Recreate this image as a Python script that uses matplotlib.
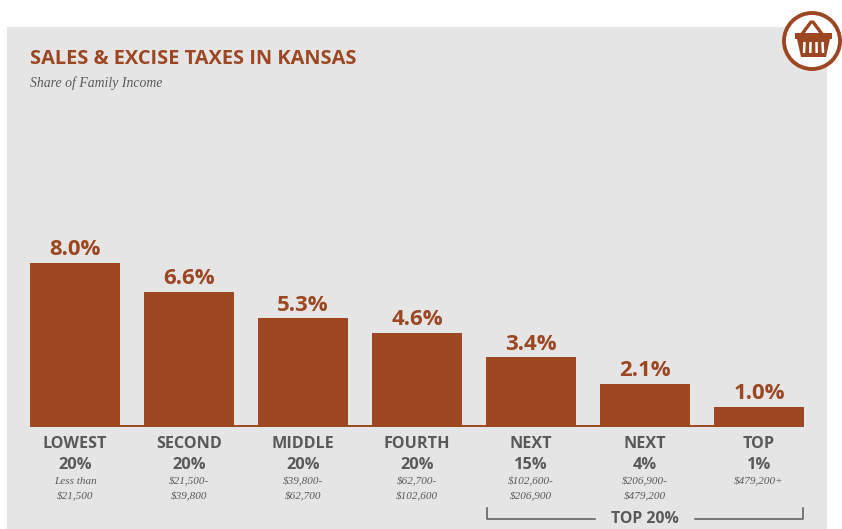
import matplotlib
matplotlib.use("Agg")
import matplotlib.pyplot as plt
from matplotlib.patches import Circle, Polygon, Rectangle

# Values
groups = ["LOWEST", "SECOND", "MIDDLE", "FOURTH", "NEXT", "NEXT", "TOP"]
shares = ["20%", "20%", "20%", "20%", "15%", "4%", "1%"]
incomes = ["Less than\n$21,500", "$21,500-\n$39,800", "$39,800-\n$62,700", "$62,700-\n$102,600",
           "$102,600-\n$206,900", "$206,900-\n$479,200", "$479,200+"]
values = [8.0, 6.6, 5.3, 4.6, 3.4, 2.1, 1.0]

BROWN = "#9C4722"
PANEL = "#E5E5E5"
GREY = "#58595B"
SANS = "Open Sans"
SERIF = "Liberation Serif"
W, H = 842, 529

fig = plt.figure(figsize=(W / 100, H / 100), dpi=100, facecolor="white")

# Overlay in pixel coords for the panel, text and icon
bg = fig.add_axes([0, 0, 1, 1], zorder=0)
bg.set_xlim(0, W)
bg.set_ylim(H, 0)
bg.axis("off")
bg.add_patch(Rectangle((7, 27), 820, 502, color=PANEL, lw=0))

# Bars
bar_w = 90 / 114
ax = fig.add_axes([30 / W, (H - 427) / H, 774 / W, 164 / H], zorder=1)
ax.patch.set_alpha(0)
x = range(len(values))
ax.bar(x, values, width=bar_w, color=BROWN)
ax.set_xlim(-bar_w / 2, 6 + bar_w / 2)
ax.set_ylim(0, 8.0)
ax.axis("off")
ax.axhline(0.05, color=BROWN, lw=1.4, clip_on=True)
for i, v in enumerate(values):
    ax.annotate(f"{v:.1f}%", (i, v), xytext=(0, 2), textcoords="offset points", ha="center", va="bottom",
                color=BROWN, fontsize=16, family=SANS, weight="bold", annotation_clip=False)

top = fig.add_axes([0, 0, 1, 1], zorder=2)
top.set_xlim(0, W)
top.set_ylim(H, 0)
top.axis("off")

top.text(30, 59, "SALES & EXCISE TAXES IN KANSAS", color=BROWN, fontsize=14.4, family=SANS, weight="bold", va="center")
top.text(30, 83, "Share of Family Income", color=GREY, fontsize=9.9, family=SERIF, style="italic", va="center")

# Category labels under the bars
for i in x:
    cx = 75 + 114 * i
    top.text(cx, 444, groups[i], color=GREY, fontsize=11.6, family=SANS, weight="bold", ha="center", va="center")
    top.text(cx, 465, shares[i], color=GREY, fontsize=11.8, family=SANS, weight="bold", ha="center", va="center")
    top.text(cx, 482, incomes[i].split("\n")[0], color=GREY, fontsize=8, family=SERIF, style="italic", ha="center", va="center")
    if "\n" in incomes[i]:
        top.text(cx, 497, incomes[i].split("\n")[1], color=GREY, fontsize=8, family=SERIF, style="italic", ha="center", va="center")

# TOP 20% bracket
top.plot([487, 487, 595], [508, 519, 519], color=GREY, lw=1.1)
top.plot([695, 803, 803], [519, 519, 508], color=GREY, lw=1.1)
top.text(645, 519, "TOP 20%", color=GREY, fontsize=11.4, family=SANS, weight="bold", ha="center", va="center")

# Basket icon
top.add_patch(Circle((812, 41), 28, facecolor="white", edgecolor=BROWN, lw=2.8, clip_on=False))
top.plot([802, 811], [34, 22], color=BROWN, lw=2.4, solid_capstyle="round")
top.plot([822, 813], [34, 22], color=BROWN, lw=2.4, solid_capstyle="round")
top.add_patch(Rectangle((795, 33), 37, 6, color=BROWN, lw=0))
top.add_patch(Polygon([(797, 39), (830, 39), (826, 57), (801, 57)], color=BROWN, lw=0))
for sx in [804, 810, 816, 822]:
    top.plot([sx + 0.5, sx + 0.5 + (sx - 813) * 0.06], [42, 53], color="white", lw=1.8, solid_capstyle="butt")

fig.savefig("out.png", dpi=100)
